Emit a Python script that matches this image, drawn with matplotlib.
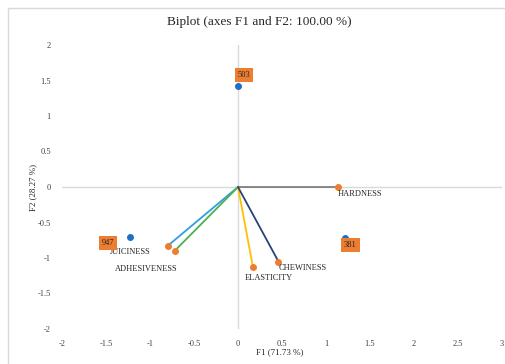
import matplotlib
matplotlib.use("Agg")
import matplotlib.pyplot as plt
from matplotlib.patches import Rectangle

# Data
obs_names = ['503', '947', '381']
obs_f1 = [0.0, -1.23, 1.22]
obs_f2 = [1.42, -0.70, -0.72]

var_names = ['HARDNESS', 'JUICINESS', 'ADHESIVENESS', 'ELASTICITY', 'CHEWINESS']
var_f1 = [1.14, -0.80, -0.72, 0.17, 0.46]
var_f2 = [0.0, -0.83, -0.90, -1.13, -1.05]

x_ticks = [-2, -1.5, -1, -0.5, 0, 0.5, 1, 1.5, 2, 2.5, 3]
y_ticks = [-2, -1.5, -1, -0.5, 0, 0.5, 1, 1.5, 2]

title = 'Biplot (axes F1 and F2: 100.00 %)'
xlabel = 'F1 (71.73 %)'
ylabel = 'F2 (28.27 %)'

# Styles
line_colors = ['#808080', '#2e9fdc', '#4caf50', '#ffc000', '#264478']
var_label_offsets = [(-1, -7, 'left'), (-17, -6, 'right'), (3, -18, 'right'),
                     (-8, -11, 'left'), (0, -6, 'left')]
obs_label_offsets = [(6, 11), (-22, -6), (5, -7)]

plt.rcParams['font.family'] = ['Liberation Serif', 'DejaVu Serif']

W, H = 505, 364
fig = plt.figure(figsize=(W / 100, H / 100), dpi=100)
fig.patch.set_facecolor('white')

# outer frame
fig.add_artist(Rectangle((8 / W, -0.1), 1.2, 1 - 8 / H + 0.1, transform=fig.transFigure,
                         fill=False, edgecolor='#d9d9d9', lw=1))

ax = fig.add_axes([62 / W, (H - 329) / H, (502 - 62) / W, (329 - 45) / H])
ax.set_xlim(-2, 3)
ax.set_ylim(-2, 2)
for s in ax.spines.values():
    s.set_visible(False)

ax.axhline(0, color='#d9d9d9', lw=1, zorder=1)
ax.axvline(0, color='#d9d9d9', lw=1, zorder=1)

ax.set_xticks(x_ticks)
ax.set_yticks(y_ticks)
ax.set_xticklabels([f'{v:g}' for v in x_ticks])
ax.set_yticklabels([f'{v:g}' for v in y_ticks])
ax.tick_params(length=0, labelsize=6, colors='#404040', pad=8)
ax.tick_params(axis='y', pad=8)

# variable vectors
for name, x, y, c, (dx, dy, ha) in zip(var_names, var_f1, var_f2, line_colors, var_label_offsets):
    ax.plot([0, x], [0, y], color=c, lw=1.3, zorder=2)
    ax.plot([x], [y], 'o', color='#ed7d31', ms=4, zorder=3)
    ax.annotate(name, (x, y), xytext=(dx, dy), textcoords='offset pixels',
                ha=ha, va='center', fontsize=6, color='#262626')

# observations
for name, x, y, (dx, dy) in zip(obs_names, obs_f1, obs_f2, obs_label_offsets):
    ax.plot([x], [y], 'o', color='#1f6fc6', ms=4, zorder=3)
    ax.annotate(name, (x, y), xytext=(dx, dy), textcoords='offset pixels',
                ha='center', va='center', fontsize=6, color='#262626',
                bbox=dict(boxstyle='square,pad=0.35', fc='#ed7d31', ec='none'))

fig.text(259 / W, 1 - 22 / H, title, ha='center', va='center', fontsize=9.5, color='#262626')
fig.text(280 / W, 1 - 352 / H, xlabel, ha='center', va='center', fontsize=6.5, color='#262626')
fig.text(33 / W, 1 - 187 / H, ylabel, ha='center', va='center', rotation=90, fontsize=6.5, color='#262626')

fig.savefig('out.png', dpi=100)
